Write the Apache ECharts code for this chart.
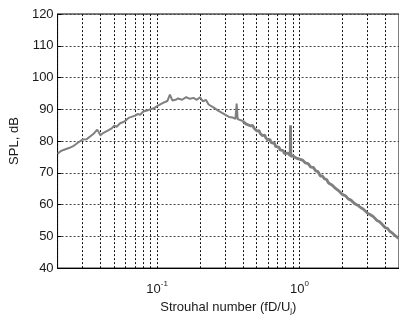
<!DOCTYPE html>
<html><head><meta charset="utf-8">
<script src="https://cdn.jsdelivr.net/npm/echarts@6/dist/echarts.min.js"></script>
<style>html,body{margin:0;padding:0;background:#fff}#c{width:399px;height:320px}</style>
</head><body><div id="c"></div>
<script>
// Strouhal number (fD/Uj) and SPL (dB), low-frequency part
const freqLow = [0.02,0.021,0.022,0.024,0.026,0.028,0.03,0.032,0.034,0.036,0.038,0.039,0.040,0.042,0.045,0.048,0.05,0.052,0.055,0.058,0.06,0.063,0.066,0.07,0.073,0.076,0.08,0.085,0.09,0.095,0.1,0.11,0.118,0.123,0.128,0.135,0.14,0.15,0.16,0.17,0.18,0.19,0.2,0.21,0.22,0.23,0.25,0.27,0.3,0.32,0.34,0.355,0.362,0.368,0.4];
const splLow  = [76.0,76.8,77.2,77.8,78.5,79.6,80.5,80.6,81.5,82.4,83.6,83.0,81.8,82.6,83.3,84.0,84.8,84.5,85.6,86.0,86.4,87.3,87.6,88.0,88.5,88.3,89.3,89.6,90.0,90.3,91.0,92.0,92.6,94.6,92.8,93.0,93.4,93.0,93.8,93.3,93.6,93.0,93.8,92.5,93.0,91.5,90.5,89.5,88.3,87.6,87.4,87.0,91.8,86.9,86.3];
// high-frequency part (noisier)
const freqHigh = [0.4,0.42,0.43,0.45,0.47,0.48,0.5,0.52,0.53,0.55,0.57,0.58,0.6,0.62,0.63,0.65,0.67,0.68,0.7,0.72,0.73,0.75,0.77,0.78,0.8,0.83,0.86,0.865,0.87,0.9,0.95,1.0,1.05,1.1,1.15,1.2,1.25,1.3,1.35,1.4,1.45,1.5,1.55,1.6,1.65,1.7,1.75,1.8,1.85,1.9,1.95,2.0,2.1,2.2,2.3,2.4,2.5,2.6,2.7,2.8,2.9,3.0,3.15,3.3,3.4,3.5,3.65,3.8,3.9,4.0,4.15,4.3,4.4,4.5,4.65,4.8,4.9,5.0];
const splHigh  = [86.3,85.4,86.0,84.8,84.9,84.0,83.2,83.3,82.4,81.7,81.9,81.0,80.3,80.6,79.6,79.0,79.2,78.3,77.9,78.0,77.2,76.8,77.0,76.1,75.9,76.2,75.4,85.0,75.2,75.3,74.6,74.3,74.0,73.1,72.9,71.8,71.7,70.6,70.4,69.0,69.0,68.1,67.9,66.8,66.9,66.1,65.8,65.0,64.9,64.2,64.0,63.2,62.8,61.8,61.4,60.6,60.0,59.6,59.0,58.6,58.0,57.3,56.8,56.2,55.7,55.0,54.6,53.8,53.4,52.7,52.5,51.6,51.4,51.0,50.4,49.9,49.6,49.3];
// vertical grid positions (log axis)
const gridFreqs = [0.02,0.03,0.04,0.05,0.06,0.07,0.08,0.09,0.1,0.2,0.3,0.4,0.5,0.6,0.7,0.8,0.9,1,2,3,4];
const xTickLabels = {0.1:'-1', 1:'0'};

const zip = (a,b)=>a.map((v,i)=>[v,b[i]]);
const chart = echarts.init(document.getElementById('c'));
const font = 'Liberation Sans, Arial, sans-serif';
chart.setOption({
  animation:false,
  backgroundColor:'#fff',
  grid:{left:57, top:14, width:343, height:259, show:true, borderColor:'#000', borderWidth:1, backgroundColor:'#fff'},
  xAxis:{type:'log', logBase:10, min:0.02, max:5,
    name:'Strouhal number (fD/U{sub|j})', nameLocation:'middle', nameGap:27,
    nameTextStyle:{fontFamily:font, fontSize:13, color:'#1a1a1a', rich:{sub:{fontSize:8, fontFamily:font, color:'#1a1a1a', padding:[0,0,-8,0]}}},
    axisLine:{show:true, lineStyle:{color:'#000', width:1}},
    axisTick:{show:false}, splitLine:{show:false},
    axisLabel:{margin:12, showMinLabel:false, showMaxLabel:false,
      formatter:v=>{const k=Math.round(Math.log10(v)); const s=xTickLabels[Math.pow(10,k)]; return s!==undefined?('{b|10}{s|'+s+'}'):'';},
      rich:{b:{fontFamily:font, fontSize:13, color:'#1a1a1a'}, s:{fontFamily:font, fontSize:8, color:'#1a1a1a', padding:[0,0,10,0]}}}
  },
  yAxis:{type:'value', min:40, max:120, interval:10,
    name:'SPL, dB', nameLocation:'middle', nameGap:34,
    nameTextStyle:{fontFamily:font, fontSize:13, color:'#1a1a1a'},
    axisLine:{show:true, lineStyle:{color:'#000', width:1}},
    axisTick:{show:true, inside:true, length:4, lineStyle:{color:'#000'}},
    axisLabel:{fontFamily:font, fontSize:13, color:'#1a1a1a', margin:4},
    splitLine:{show:true, lineStyle:{color:'#444', type:[2,2], width:1}}
  },
  series:[
    {type:'line', data:[[0.02,40]], symbol:'none', silent:true, z:1, lineStyle:{width:0},
      markLine:{silent:true, symbol:'none', animation:false, label:{show:false},
        lineStyle:{color:'#111', type:[2,2], width:1},
        data: gridFreqs.map(f=>({xAxis:f}))}},
    {type:'line', data:zip(freqLow, splLow), symbol:'none', z:5, lineStyle:{color:'#7f7f7f', width:2}},
    {type:'line', data:zip(freqHigh, splHigh), symbol:'none', z:5, lineStyle:{color:'#7f7f7f', width:2.8}}
  ]
});
</script></body></html>
